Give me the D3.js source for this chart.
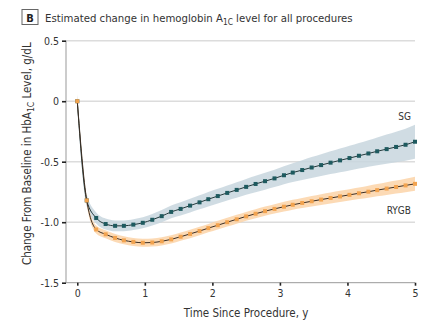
<!DOCTYPE html>
<html>
<head>
<meta charset="utf-8">
<script src="https://cdn.jsdelivr.net/npm/d3@7"></script>
<style>
  body { margin: 0; background: #fff; }
  svg { display: block; font-family: "Liberation Sans Narrow", "DejaVu Sans Condensed", "Roboto", sans-serif; }
</style>
</head>
<body>
<svg width="441" height="328"></svg>
<script>
// Time points (years since procedure)
const times = [0, 0.14, 0.28, 0.42, 0.56, 0.69, 0.83, 0.97, 1.11, 1.25, 1.39, 1.53, 1.67, 1.81, 1.94,
  2.08, 2.22, 2.36, 2.5, 2.64, 2.78, 2.92, 3.06, 3.19, 3.33, 3.47, 3.61, 3.75, 3.89, 4.03, 4.17,
  4.31, 4.44, 4.58, 4.72, 4.86, 5.0];

// SG: estimated change and half-width of the confidence band
const sgValues = [0, -0.82, -0.965, -1.015, -1.03, -1.03, -1.02, -1.005, -0.98, -0.95, -0.915,
  -0.89, -0.863, -0.836, -0.81, -0.784, -0.758, -0.733, -0.708, -0.684, -0.661, -0.638, -0.612,
  -0.59, -0.569, -0.548, -0.528, -0.508, -0.489, -0.47, -0.451, -0.432, -0.414, -0.396, -0.378,
  -0.36, -0.335];
const sgBand = [0.06, 0.05, 0.045, 0.045, 0.045, 0.045, 0.045, 0.046, 0.048, 0.05, 0.053,
  0.055, 0.057, 0.058, 0.06, 0.061, 0.062, 0.064, 0.066, 0.068, 0.07, 0.072, 0.075, 0.078,
  0.082, 0.086, 0.09, 0.094, 0.098, 0.102, 0.106, 0.11, 0.115, 0.12, 0.126, 0.132, 0.14];

// RYGB: estimated change and half-width of the confidence band
const rygbValues = [0, -0.82, -1.06, -1.1, -1.13, -1.15, -1.163, -1.17, -1.168, -1.158, -1.142,
  -1.12, -1.097, -1.073, -1.049, -1.025, -1.0, -0.976, -0.952, -0.93, -0.909, -0.89, -0.872,
  -0.856, -0.841, -0.827, -0.813, -0.8, -0.787, -0.774, -0.761, -0.748, -0.735, -0.722, -0.709,
  -0.696, -0.683];
const rygbBand = [0.04, 0.035, 0.033, 0.033, 0.033, 0.033, 0.033, 0.033, 0.033, 0.034, 0.034,
  0.034, 0.035, 0.035, 0.035, 0.036, 0.036, 0.037, 0.037, 0.038, 0.038, 0.039, 0.04, 0.041,
  0.042, 0.043, 0.044, 0.045, 0.046, 0.047, 0.048, 0.05, 0.051, 0.053, 0.054, 0.056, 0.058];

const yTicks = [0.5, 0, -0.5, -1.0, -1.5];
const yTickLabels = ["0.5", "0", "-0.5", "-1.0", "-1.5"];
const xTicks = [0, 1, 2, 3, 4, 5];
const xTickLabels = ["0", "1", "2", "3", "4", "5"];

const series = [
  { name: "SG", values: sgValues, band: sgBand, point: "#1e5a5f", fill: "#c8d6de", line: "#24393b" },
  { name: "RYGB", values: rygbValues, band: rygbBand, point: "#f2a34f", fill: "#fbd3a8", line: "#3a2c22" }
];

const svg = d3.select("svg");

// Area of the plot
const area = { left: 66, right: 415, top: 40.7, bottom: 282.7 };

const scX = d3.scaleLinear().domain([-0.167, 5]).range([area.left, area.right]);
const scY = d3.scaleLinear().domain([-1.5, 0.5]).range([area.bottom, area.top]);

// Title with the panel letter box
svg.append("rect")
  .attr("x", 22).attr("y", 9.5).attr("width", 16).attr("height", 15)
  .attr("fill", "#fff").attr("stroke", "#666").attr("stroke-width", 1);
svg.append("text")
  .attr("x", 30).attr("y", 21.5).attr("text-anchor", "middle")
  .attr("font-size", 11).attr("font-weight", "bold").attr("fill", "#222")
  .text("B");
const title = svg.append("text")
  .attr("x", 45).attr("y", 21.5).attr("font-size", 11.3).attr("fill", "#333");
title.append("tspan").text("Estimated change in hemoglobin A");
title.append("tspan").attr("font-size", 8.3).attr("dy", 3).text("1C");
title.append("tspan").attr("dy", -3).text(" level for all procedures");

// Horizontal grid lines
svg.append("g")
  .selectAll("line")
  .data(yTicks.filter(d => d > -1.5))
  .enter()
  .append("line")
  .attr("x1", area.left).attr("x2", area.right)
  .attr("y1", d => scY(d)).attr("y2", d => scY(d))
  .attr("stroke", "#dcdcdc").attr("stroke-width", 1.5);

// Y axis
const axisY = d3.axisLeft(scY).tickValues(yTicks)
  .tickFormat((d, i) => yTickLabels[i]).tickSize(4).tickPadding(3);
const gY = svg.append("g")
  .attr("transform", `translate(${area.left}, 0)`)
  .call(axisY);
gY.select(".domain").attr("stroke", "#999").attr("d", `M0,${area.top}V${area.bottom}`);
gY.selectAll(".tick line").attr("stroke", "#222").attr("stroke-width", 1.6);
gY.selectAll(".tick text").attr("font-size", 10.5).attr("fill", "#333")
  .attr("font-family", "Liberation Sans Narrow, DejaVu Sans Condensed, sans-serif");

// X axis
const axisX = d3.axisBottom(scX).tickValues(xTicks)
  .tickFormat((d, i) => xTickLabels[i]).tickSize(3).tickPadding(4);
const gX = svg.append("g")
  .attr("transform", `translate(0, ${area.bottom})`)
  .call(axisX);
gX.select(".domain").attr("stroke", "#999").attr("d", `M${area.left},0H${area.right}`);
gX.selectAll(".tick line").attr("stroke", "#222").attr("stroke-width", 1.6);
gX.selectAll(".tick text").attr("font-size", 10.5).attr("fill", "#333")
  .attr("font-family", "Liberation Sans Narrow, DejaVu Sans Condensed, sans-serif");

// Axis titles
svg.append("text")
  .attr("x", scX(2.5)).attr("y", 317).attr("text-anchor", "middle")
  .attr("font-size", 11.5).attr("fill", "#333")
  .text("Time Since Procedure, y");

const yTitle = svg.append("text")
  .attr("transform", `translate(31, ${(area.top + area.bottom) / 2 - 8}) rotate(-90)`)
  .attr("text-anchor", "middle").attr("font-size", 11.5).attr("fill", "#333");
yTitle.append("tspan").text("Change From Baseline in HbA");
yTitle.append("tspan").attr("font-size", 8.5).attr("dy", 3).text("1C");
yTitle.append("tspan").attr("dy", -3).text(" Level, g/dL");

// Bands, lines and points for each procedure
const band = d3.area()
  .x(d => scX(d.t))
  .y0(d => scY(d.v - d.se))
  .y1(d => scY(d.v + d.se))
  .curve(d3.curveMonotoneX);
const line = d3.line()
  .x(d => scX(d.t))
  .y(d => scY(d.v))
  .curve(d3.curveMonotoneX);

for (let s of series) {
  const pts = times.map((t, i) => ({ t: t, v: s.values[i], se: s.band[i] }));
  svg.append("path").datum(pts).attr("d", band).attr("fill", s.fill).attr("opacity", 0.85);
}
for (let s of series) {
  const pts = times.map((t, i) => ({ t: t, v: s.values[i], se: s.band[i] }));
  svg.append("path").datum(pts).attr("d", line)
    .attr("fill", "none").attr("stroke", s.line).attr("stroke-width", 1);
  const r = 2;
  svg.append("g")
    .selectAll("rect")
    .data(pts)
    .enter()
    .append("rect")
    .attr("x", d => scX(d.t) - r)
    .attr("y", d => scY(d.v) - r)
    .attr("width", 2 * r).attr("height", 2 * r)
    .attr("fill", s.point);
}

// Series labels
svg.append("text").attr("x", 411).attr("y", 119.5).attr("text-anchor", "end")
  .attr("font-size", 10).attr("fill", "#333").text("SG");
svg.append("text").attr("x", 411).attr("y", 213.5).attr("text-anchor", "end")
  .attr("font-size", 10).attr("fill", "#333").text("RYGB");
</script>
</body>
</html>
